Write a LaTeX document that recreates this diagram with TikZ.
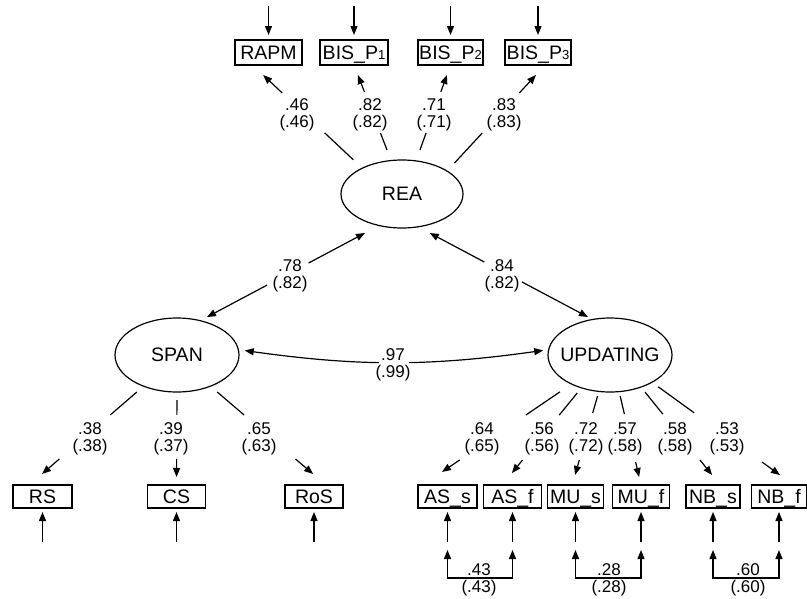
\documentclass[tikz,border=0pt]{standalone}
\usepackage{fontspec}
\setmainfont{Liberation Sans}
\usetikzlibrary{shapes.geometric,arrows.meta,calc}
\newcommand\boxfont{\fontsize{19.5}{20}\selectfont}
\newcommand\labfont{\fontsize{17}{16.5}\selectfont}
\newcommand\subdig[1]{{\fontsize{13}{13}\selectfont #1}}
% loading: line from #1 toward #2 split by a gap for the label
\newcommand\ldg[6]{%
  \draw[conn] ($(#1)!#3!(#2)$) -- ($(#1)!#4!(#2)$);
  \draw[conn,->] ($(#1)!#5!(#2)$) -- ($(#1)!#6!(#2)$);}
\begin{document}
\begin{tikzpicture}[x=1pt,y=1pt,
  >={Triangle[length=9pt,width=7pt]},
  conn/.style={line width=1.2pt},
  obs/.style={draw,rectangle,line width=1.2pt,inner sep=0pt,outer sep=0pt,
    minimum height=23pt,text height=14pt,text depth=0pt,font=\boxfont},
  lat/.style={draw,ellipse,line width=1.2pt,inner sep=0pt,outer sep=0pt,font=\boxfont},
  lab/.style={align=center,inner sep=0pt,font=\labfont}]
\useasboundingbox (0,0) rectangle (807,-598);

% latent variables
\node[lat,minimum width=122pt,minimum height=68pt] (REA) at (402,-194) {\makebox[0pt]{REA}};
\node[lat,minimum width=124pt,minimum height=74pt] (SPAN) at (177,-355) {\makebox[0pt]{SPAN}};
\node[lat,minimum width=124pt,minimum height=74pt] (UPD) at (610,-355) {\makebox[0pt]{UPDATING}};

% top indicators
\node[obs,minimum width=67pt,minimum height=25pt] (RAPM) at (268.5,-52.5) {RAPM};
\node[obs,minimum width=68pt,minimum height=25pt] (BIS1) at (354,-52.5) {BIS\_P\subdig{1}};
\node[obs,minimum width=65pt,minimum height=25pt] (BIS2) at (450.5,-52.5) {BIS\_P\subdig{2}};
\node[obs,minimum width=66pt,minimum height=25pt] (BIS3) at (538,-52.5) {BIS\_P\subdig{3}};

% bottom indicators
\node[obs,minimum width=59pt] (RS)  at (42.5,-496.5) {RS};
\node[obs,minimum width=58pt] (CS)  at (176.5,-496.5) {CS};
\node[obs,minimum width=58pt] (RoS) at (314,-496.5) {RoS};
\node[obs,minimum width=59pt] (ASs) at (447.5,-496.5) {AS\_s};
\node[obs,minimum width=58pt] (ASf) at (512.5,-496.5) {AS\_f};
\node[obs,minimum width=56pt] (MUs) at (575.5,-496.5) {MU\_s};
\node[obs,minimum width=57pt] (MUf) at (641,-496.5) {MU\_f};
\node[obs,minimum width=54pt] (NBs) at (713,-496.5) {NB\_s};
\node[obs,minimum width=55pt] (NBf) at (779,-496.5) {NB\_f};

% error terms, top
\foreach \n in {RAPM,BIS1,BIS2,BIS3}{
  \coordinate (e\n) at ($(\n.north)+(0,34)$);
  \draw[conn,->,shorten >=5pt] (e\n) -- (\n.north);}
% error terms, bottom
\foreach \n in {RS,CS,RoS,ASs,ASf,MUs,MUf,NBs,NBf}{
  \coordinate (e\n) at ($(\n.south)+(0,-38)$);
  \draw[conn,->,shorten <=4pt,shorten >=4pt] (e\n) -- (\n.south);}

% error covariances
\draw[conn,<->,shorten <=4pt,shorten >=4pt] (eASs) -- ++(0,-32) -| (eASf);
\draw[conn,<->,shorten <=4pt,shorten >=4pt] (eMUs) -- ++(0,-32) -| (eMUf);
\draw[conn,<->,shorten <=4pt,shorten >=4pt] (eNBs) -- ++(0,-32) -| (eNBf);

% loadings REA
\ldg{REA.147}{RAPM.218}{0.082}{0.343}{0.729}{0.903}
\ldg{REA.108}{BIS1.south}{0.110}{0.288}{0.717}{0.895}
\ldg{REA.67}{BIS2.south}{0.115}{0.292}{0.719}{0.896}
\ldg{REA.27}{BIS3.300}{0.075}{0.358}{0.736}{0.906}

% factor correlations
\draw[conn,<-] ($(REA.234)!0.079!(SPAN.56)$) -- ($(REA.234)!0.394!(SPAN.56)$);
\draw[conn,->] ($(REA.234)!0.626!(SPAN.56)$) -- ($(REA.234)!0.962!(SPAN.56)$);
\draw[conn,<-] ($(REA.296)!0.067!(UPD.116)$) -- ($(REA.296)!0.380!(UPD.116)$);
\draw[conn,->] ($(REA.296)!0.595!(UPD.116)$) -- ($(REA.296)!0.973!(UPD.116)$);
\draw[conn,<->,shorten <=6.5pt,shorten >=5.5pt] (SPAN.5) to[bend right=8]
  node[pos=0.5,fill=white,minimum width=30pt,minimum height=7pt,inner sep=0pt] (gap) {} (UPD.175);

% loadings SPAN
\ldg{SPAN.223}{RS.139}{0.059}{0.291}{0.737}{0.889}
\ldg{SPAN.south}{CS.north}{0.086}{0.247}{0.720}{0.914}
\ldg{SPAN.317}{RoS.44}{0.059}{0.291}{0.737}{0.889}

% loadings UPDATING
\ldg{UPD.217}{ASs.155}{0.078}{0.306}{0.752}{0.871}
\ldg{UPD.229}{ASf.132}{0.053}{0.280}{0.743}{0.877}
\ldg{UPD.253}{MUs.106}{0.049}{0.231}{0.733}{0.893}
\ldg{UPD.284}{MUf.north}{0.048}{0.241}{0.754}{0.914}
\ldg{UPD.314}{NBs.58}{0.051}{0.276}{0.745}{0.898}
\ldg{UPD.327}{NBf.38}{0.045}{0.298}{0.776}{0.903}

% labels
\node[lab] (l1) at (297,-115) {.46\\(.46)};
\node[lab] (l2) at (370,-115) {.82\\(.82)};
\node[lab] (l3) at (434,-115) {.71\\(.71)};
\node[lab] (l4) at (504,-115) {.83\\(.83)};
\node[lab] (l5) at (290,-276) {.78\\(.82)};
\node[lab] (l6) at (502,-276) {.84\\(.82)};
\node[lab] (l7) at (393,-365) {.97\\(.99)};
\node[lab] (l8) at (90,-439) {.38\\(.38)};
\node[lab] (l9) at (171,-439) {.39\\(.37)};
\node[lab] (l10) at (259,-439) {.65\\(.63)};
\node[lab] (l11) at (482,-439) {.64\\(.65)};
\node[lab] (l12) at (542,-439) {.56\\(.56)};
\node[lab] (l13) at (586,-439) {.72\\(.72)};
\node[lab] (l14) at (625,-439) {.57\\(.58)};
\node[lab] (l15) at (675,-439) {.58\\(.58)};
\node[lab] (l16) at (727,-439) {.53\\(.53)};
\node[lab] (l17) at (479,-580) {.43\\(.43)};
\node[lab] (l18) at (609,-580) {.28\\(.28)};
\node[lab] (l19) at (748,-580) {.60\\(.60)};
\end{tikzpicture}
\end{document}
